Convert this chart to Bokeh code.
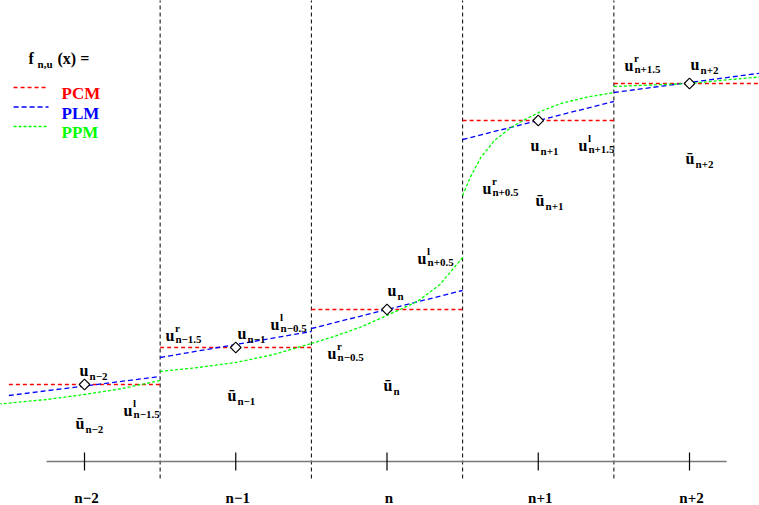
from bokeh.plotting import figure
from bokeh.models import Range1d
from bokeh.core.properties import value
from bokeh.embed import file_html
from bokeh.resources import INLINE
import math

# ---------------- data ----------------
centers = [-2, -1, 0, 1, 2]
cell_labels = ["n\u22122", "n\u22121", "n", "n+1", "n+2"]
boundaries = [-1.5, -0.5, 0.5, 1.5]

# point values (diamonds) and PCM levels
u_center = [0.77, 1.14, 1.52, 3.41, 3.78]
# PLM edge values (left, right of each cell)
plm_left = [0.66, 1.04, 1.33, 3.22, 3.69]
plm_right = [0.85, 1.30, 1.71, 3.60, 3.89]
# PPM samples, per cell
ppm_x = [
    [-2.6, -2.25, -2.0, -1.75, -1.5],
    [-1.5, -1.25, -1.0, -0.75, -0.5],
    [-0.5, -0.35, -0.18, 0.0, 0.2, 0.35, 0.5],
    [0.5, 0.55, 0.62, 0.71, 0.82, 0.9, 1.03, 1.15, 1.31, 1.5],
    [1.5, 1.75, 2.0, 2.2, 2.5],
]
ppm_y = [
    [0.57, 0.62, 0.67, 0.73, 0.81],
    [0.90, 0.94, 0.99, 1.07, 1.18],
    [1.18, 1.25, 1.34, 1.46, 1.60, 1.77, 2.04],
    [2.66, 2.84, 3.04, 3.21, 3.34, 3.41, 3.51, 3.58, 3.64, 3.69],
    [3.75, 3.765, 3.78, 3.81, 3.85],
]

# annotation labels
lab_base = ["u", "\u016b", "u", "u", "u", "\u016b", "u", "u", "u", "\u016b",
            "u", "u", "u", "\u016b", "u", "u", "u", "\u016b"]
lab_sup = ["", "", "l", "r", "", "", "l", "r", "", "", "l", "r", "", "", "l", "r", "", ""]
lab_sub = ["n\u22122", "n\u22122", "n\u22121.5", "n\u22121.5", "n\u22121", "n\u22121",
           "n\u22120.5", "n\u22120.5", "n", "n", "n+0.5", "n+0.5", "n+1", "n+1",
           "n+1.5", "n+1.5", "n+2", "n+2"]
lab_x = [-2.033, -2.06, -1.742, -1.465, -0.988, -1.055, -0.77, -0.393, 0.003, -0.023,
         0.202, 0.631, 0.949, 0.982, 1.266, 1.570, 2.007, 1.974]
lab_y = [0.91, 0.38, 0.51, 1.26, 1.28, 0.66, 1.37, 1.08, 1.71, 0.76,
         2.03, 2.73, 3.16, 2.61, 3.16, 3.96, 3.97, 3.03]

legend_names = ["PCM", "PLM", "PPM"]
legend_colors = ["#ff0000", "#0000ff", "#00ff00"]
legend_dash = ["4 3", "5 3", "3 2"]

# ---------------- figure ----------------
W, H = 759, 505
PX = 151.25
X0 = -2.5554
YTOP = 4.61
p = figure(width=W, height=H, output_backend="svg", toolbar_location=None,
           x_range=Range1d(X0, X0 + W / PX), y_range=Range1d(YTOP - H / 100.0, YTOP),
           x_axis_type=None, y_axis_type=None, min_border=0,
           outline_line_color=None, background_fill_color="white")
p.grid.visible = False

FONT = value("Liberation Serif")

# cell boundaries
p.multi_line(xs=[[b, b] for b in boundaries], ys=[[-0.17, 4.8] for _ in boundaries],
             line_color="black", line_dash="4 3", line_width=1)

# horizontal axis and ticks
p.line(x=[-2.251, 2.245], y=[0, 0], line_color="#777777", line_width=1.6)
p.multi_line(xs=[[c, c] for c in centers], ys=[[-0.09, 0.09] for _ in centers],
             line_color="black", line_width=1.2)
p.text(x=centers, y=[-0.36] * 5, text=cell_labels, text_font=FONT, text_font_style="bold",
       text_font_size="15px", text_align="center", text_baseline="alphabetic",
       x_offset=2, text_color="black")

# PCM
p.multi_line(xs=[[c - 0.5, c + 0.5] for c in centers], ys=[[u, u] for u in u_center],
             line_color=legend_colors[0], line_dash=legend_dash[0], line_width=1.3)
# PLM
p.multi_line(xs=[[c - 0.5, c + 0.5] for c in centers],
             ys=[[l, r] for l, r in zip(plm_left, plm_right)],
             line_color=legend_colors[1], line_dash=legend_dash[1], line_width=1.3)
# PPM
p.multi_line(xs=ppm_x, ys=ppm_y, line_color=legend_colors[2], line_dash=legend_dash[2],
             line_width=1.3)

# diamonds
p.scatter(x=centers, y=u_center, marker="square", angle=math.pi / 4, size=7.5,
          fill_color="white", line_color="black", line_width=1.1)

# labels
p.text(x=lab_x, y=lab_y, text=lab_base, text_font=FONT, text_font_style="bold",
       text_font_size="16px", text_align="left", text_baseline="alphabetic", text_color="black")
sub_off = [3.5 if s else 5 for s in lab_sup]
p.text(x=lab_x, y=lab_y, text=lab_sub, text_font=FONT, text_font_style="bold",
       text_font_size="11px", text_align="left", text_baseline="alphabetic",
       x_offset=10, y_offset=sub_off, text_color="black")
sx = [x for x, s in zip(lab_x, lab_sup) if s]
sy = [y for y, s in zip(lab_y, lab_sup) if s]
st = [s for s in lab_sup if s]
p.text(x=sx, y=sy, text=st, text_font=FONT, text_font_style="bold",
       text_font_size="11px", text_align="left", text_baseline="alphabetic",
       x_offset=9.5, y_offset=-8, text_color="black")

# title formula f_{n,u}(x) =
p.text(x=[-2.370], y=[4.03], text=["f"], text_font=FONT, text_font_style="bold",
       text_font_size="16px", text_baseline="alphabetic", text_color="black")
p.text(x=[-2.370], y=[4.03], text=["n,u"], text_font=FONT, text_font_style="bold",
       text_font_size="11px", text_baseline="alphabetic", x_offset=9, y_offset=5,
       text_color="black")
p.text(x=[-2.370], y=[4.03], text=["(x) ="], text_font=FONT, text_font_style="bold",
       text_font_size="16px", text_baseline="alphabetic", x_offset=29, text_color="black")

# manual legend
leg_line_y = [3.74, 3.545, 3.35]
for name, col, dash, ly in zip(legend_names, legend_colors, legend_dash, leg_line_y):
    p.line(x=[-2.469, -2.238], y=[ly, ly], line_color=col, line_dash=dash, line_width=1.3)
p.text(x=[-2.152] * 3, y=[ly - 0.06 for ly in leg_line_y], text=legend_names,
       text_font=FONT, text_font_style="bold", text_font_size="17px",
       text_baseline="alphabetic", text_color=legend_colors)

open("out.html", "w").write(file_html(p, INLINE))
